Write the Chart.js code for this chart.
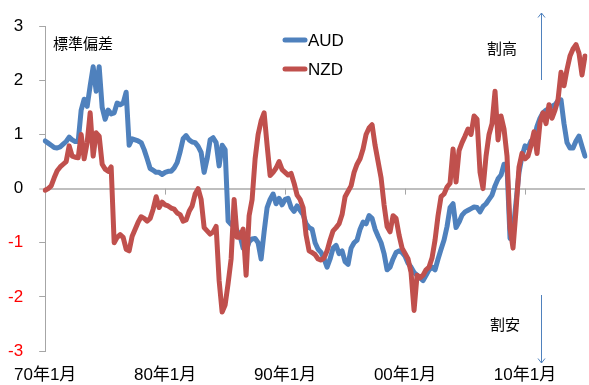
<!DOCTYPE html>
<html>
<head>
<meta charset="utf-8">
<script src="https://cdn.jsdelivr.net/npm/chart.js@4/dist/chart.umd.min.js"></script>
<style>
  html, body { margin: 0; padding: 0; background: #ffffff; }
  canvas { display: block; }
</style>
</head>
<body>
<canvas id="chart" width="589" height="385"></canvas>
<script>
// Quarterly observations, Jan 1970 through Jan 2015
const startYear = 1970;
const quarterCount = 181;
const periods = [];
for (let i = 0; i < quarterCount; i++) {
  const yr = startYear + Math.floor(i / 4);
  const mo = 1 + 3 * (i % 4);
  periods.push(String(yr % 100).padStart(2, '0') + '年' + mo + '月');
}

// Standardised deviation from fair value, AUD
const aud = [
  0.88, 0.84, 0.80, 0.76, 0.75, 0.77, 0.82, 0.87, 0.95, 0.90,
  0.87, 0.87, 1.45, 1.65, 1.52, 1.90, 2.25, 1.80, 2.25, 1.50,
  1.28, 1.45, 1.38, 1.40, 1.58, 1.55, 1.58, 1.78, 0.80, 0.92,
  0.90, 0.88, 0.85, 0.72, 0.55, 0.37, 0.34, 0.30, 0.30, 0.26,
  0.30, 0.32, 0.32, 0.38, 0.48, 0.68, 0.92, 0.98, 0.90, 0.86,
  0.85, 0.78, 0.67, 0.30, 0.55, 0.90, 0.94, 0.85, 0.42, 0.80,
  0.72, -0.60, -0.66, -0.70, -0.78, -0.88, -1.10, -1.15, -0.98, -0.93,
  -0.92, -1.00, -1.30, -0.80, -0.35, -0.20, -0.10, -0.28, -0.18, -0.30,
  -0.20, -0.18, -0.35, -0.42, -0.32, -0.40, -0.48, -0.65, -0.72, -0.75,
  -1.00, -1.12, -1.18, -1.30, -1.45, -1.30, -1.10, -1.05, -1.20, -1.15,
  -1.35, -1.40, -1.10, -1.00, -0.95, -0.75, -0.62, -0.65, -0.50, -0.55,
  -0.75, -0.88, -1.00, -1.20, -1.50, -1.45, -1.30, -1.18, -1.15, -1.18,
  -1.25, -1.38, -1.45, -1.55, -1.60, -1.65, -1.70, -1.60, -1.50, -1.45,
  -1.50, -1.30, -1.12, -0.95, -0.70, -0.35, -0.28, -0.72, -0.62, -0.49,
  -0.43, -0.40, -0.37, -0.34, -0.35, -0.43, -0.33, -0.28, -0.20, -0.12,
  0.05, 0.18, 0.25, 0.45, 0.40, -0.92, -0.80, -0.25, 0.30, 0.60,
  0.79, 0.75, 0.88, 0.92, 1.15, 1.30, 1.40, 1.45, 1.48, 1.52,
  1.55, 1.62, 1.64, 1.20, 0.85, 0.75, 0.75, 0.88, 0.97, 0.78,
  0.60
];

// Standardised deviation from fair value, NZD
const nzd = [
  -0.03, 0.00, 0.05, 0.20, 0.33, 0.40, 0.45, 0.50, 0.79, 0.60,
  0.58, 0.57, 1.00, 0.55, 0.85, 1.40, 0.60, 1.03, 0.97, 0.45,
  0.36, 0.32, 0.40, -1.00, -0.90, -0.85, -0.90, -1.12, -1.15, -0.88,
  -0.75, -0.62, -0.52, -0.55, -0.60, -0.55, -0.38, -0.15, -0.35, -0.25,
  -0.30, -0.32, -0.36, -0.38, -0.45, -0.48, -0.60, -0.58, -0.42, -0.32,
  -0.10, 0.00, -0.20, -0.72, -0.78, -0.84, -0.80, -0.70, -1.70, -2.28,
  -2.15, -1.75, -1.30, -0.20, -0.90, -0.90, -0.75, -1.60, -0.50, -0.20,
  0.55, 1.00, 1.25, 1.40, 0.80, 0.24, 0.30, 0.38, 0.50, 0.35,
  0.30, 0.25, 0.28, 0.10, -0.12, -0.20, -0.35, -0.86, -1.15, -1.18,
  -1.22, -1.30, -1.32, -1.28, -1.15, -0.95, -0.78, -0.72, -0.65, -0.48,
  -0.15, -0.05, 0.05, 0.30, 0.45, 0.55, 0.73, 1.00, 1.12, 1.18,
  0.80, 0.50, 0.20, -0.30, -0.70, -0.80, -0.50, -0.55, -0.86, -1.10,
  -1.20, -1.30, -1.55, -2.25, -1.60, -1.65, -1.60, -1.50, -1.45, -1.28,
  -0.95, -0.50, -0.15, -0.10, 0.03, 0.10, 0.73, 0.12, 0.70, 0.85,
  0.97, 1.10, 1.00, 1.34, 1.28, 0.30, 0.00, 0.60, 1.00, 1.20,
  1.80, 0.90, 1.34, 1.10, 0.60, -0.73, -1.10, -0.40, 0.40, 0.65,
  0.55, 0.60, 0.80, 1.05, 0.65, 1.22, 1.40, 1.20, 1.55, 1.30,
  1.45, 1.64, 2.15, 1.90, 2.20, 2.45, 2.58, 2.66, 2.50, 2.10,
  2.45
];

const seriesNames = ['AUD', 'NZD'];
const seriesColors = ['#4F81BD', '#C0504D'];
const labelEvery = 40; // one label per decade

const FONT = "'Liberation Sans', 'Noto Sans CJK JP', sans-serif";
const CJK = "'Noto Sans CJK JP', sans-serif";

const decorations = {
  id: 'decorations',
  beforeDatasetsDraw(chart) {
    const { ctx, scales: { x, y } } = chart;
    const y0 = y.getPixelForValue(0);
    ctx.save();
    ctx.strokeStyle = '#a6a6a6';
    ctx.lineWidth = 1;
    for (let i = labelEvery; i < periods.length; i += labelEvery) {
      const px = Math.round(x.getPixelForValue(i)) + 0.5;
      ctx.beginPath();
      ctx.moveTo(px, y0);
      ctx.lineTo(px, y0 + 6);
      ctx.stroke();
    }
    ctx.restore();
  },
  afterDraw(chart) {
    const { ctx } = chart;
    ctx.save();

    // legend
    ctx.font = '17px ' + FONT;
    ctx.textBaseline = 'middle';
    ctx.textAlign = 'left';
    seriesNames.forEach((name, i) => {
      const ly = 40 + i * 29;
      ctx.strokeStyle = seriesColors[i];
      ctx.lineWidth = 5;
      ctx.lineCap = 'round';
      ctx.beginPath();
      ctx.moveTo(285, ly);
      ctx.lineTo(305, ly);
      ctx.stroke();
      ctx.fillStyle = '#000000';
      ctx.fillText(name, 308, ly + 1);
    });

    // captions
    ctx.font = '15px ' + CJK;
    ctx.fillStyle = '#000000';
    ctx.fillText('標準偏差', 53, 43);
    ctx.fillText('割高', 487, 48);
    ctx.fillText('割安', 490, 324);

    // direction arrows
    const ax = 541.5;
    ctx.strokeStyle = '#4F81BD';
    ctx.lineWidth = 1;
    ctx.lineCap = 'butt';
    ctx.beginPath();
    ctx.moveTo(ax, 80); ctx.lineTo(ax, 13);
    ctx.moveTo(ax - 3.5, 17.5); ctx.lineTo(ax, 13); ctx.lineTo(ax + 3.5, 17.5);
    ctx.moveTo(ax, 295); ctx.lineTo(ax, 363);
    ctx.moveTo(ax - 3.5, 358.5); ctx.lineTo(ax, 363); ctx.lineTo(ax + 3.5, 358.5);
    ctx.stroke();

    ctx.restore();
  }
};

new Chart(document.getElementById('chart'), {
  type: 'line',
  data: {
    labels: periods,
    datasets: [
      { label: seriesNames[0], data: aud, borderColor: seriesColors[0], order: 2 },
      { label: seriesNames[1], data: nzd, borderColor: seriesColors[1], order: 1 }
    ]
  },
  options: {
    responsive: false,
    animation: false,
    devicePixelRatio: 1,
    layout: { padding: { top: 21, right: 4, left: 0, bottom: 0 } },
    elements: {
      line: { borderWidth: 5, tension: 0, borderJoinStyle: 'round', borderCapStyle: 'round', fill: false },
      point: { radius: 0, hoverRadius: 0 }
    },
    plugins: {
      legend: { display: false },
      tooltip: { enabled: false }
    },
    scales: {
      x: {
        type: 'category',
        offset: false,
        grid: { display: false, drawTicks: false },
        border: { display: false },
        ticks: {
          autoSkip: false,
          maxRotation: 0,
          minRotation: 0,
          padding: 14,
          color: '#000000',
          font: { family: FONT, size: 17 },
          callback: (v, i) => (i % labelEvery === 0 ? periods[i] : null)
        },
        afterFit: (s) => { s.height = 34; }
      },
      y: {
        min: -3,
        max: 3,
        grid: {
          drawTicks: true,
          tickLength: 6,
          tickColor: '#a6a6a6',
          tickWidth: 1,
          color: (c) => (c.tick && c.tick.value === 0 ? '#bfbfbf' : 'rgba(0,0,0,0)'),
          lineWidth: (c) => (c.tick && c.tick.value === 0 ? 2 : 1)
        },
        border: { display: true, color: '#a6a6a6', width: 1 },
        ticks: {
          stepSize: 1,
          padding: 16,
          font: { family: FONT, size: 17 },
          color: (c) => (c.tick.value < 0 ? '#ff0000' : '#000000')
        },
        afterFit: (s) => { s.width = 45; }
      }
    }
  },
  plugins: [decorations]
});
</script>
</body>
</html>
